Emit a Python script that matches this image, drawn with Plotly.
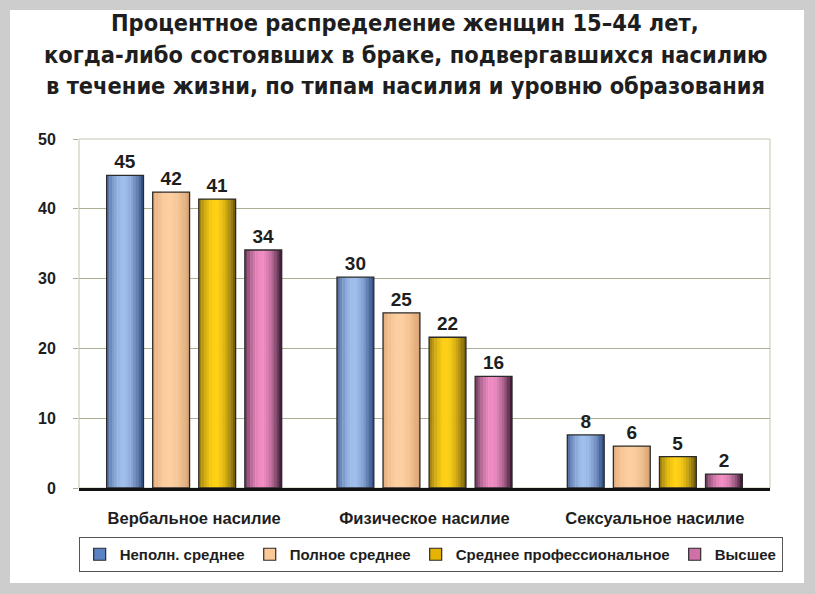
import plotly.graph_objects as go

categories = ["Вербальное насилие", "Физическое насилие", "Сексуальное насилие"]
series_names = ["Неполн. среднее", "Полное среднее", "Среднее профессиональное", "Высшее"]
values_nepoln = [44.8, 30.2, 7.6]
values_polnoe = [42.4, 25.1, 6.0]
values_prof = [41.4, 21.6, 4.5]
values_vysshee = [34.1, 16.0, 2.0]
labels_nepoln = ["45", "30", "8"]
labels_polnoe = ["42", "25", "6"]
labels_prof = ["41", "22", "5"]
labels_vysshee = ["34", "16", "2"]
y_ticks = [0, 10, 20, 30, 40, 50]
title_lines = [
    "Процентное распределение женщин 15–44 лет,",
    "когда-либо состоявших в браке, подвергавшихся насилию",
    "в течение жизни, по типам насилия и уровню образования",
]

series_values = [values_nepoln, values_polnoe, values_prof, values_vysshee]
series_labels = [labels_nepoln, labels_polnoe, labels_prof, labels_vysshee]
# (dark edge, light centre, legend colour)
palette = [
    ((38, 66, 122), (160, 190, 235), "#5b82c2"),
    ((214, 160, 110), (253, 206, 160), "#fbc896"),
    ((100, 82, 12), (255, 208, 20), "#e6b400"),
    ((45, 18, 40), (240, 140, 195), "#d070a8"),
]

W, H = 815, 594
L, R, T, B = 79, 770, 139, 488
pw, ph = R - L, B - T

def px(x):
    return (x - L) / pw

def py(y):
    return (B - y) / ph

xpos = list(range(len(categories)))
slot, bw = 0.2, 0.16
N = 14

fig = go.Figure()

def mix(a, b, f):
    return "rgb(%d,%d,%d)" % tuple(round(a[i] + (b[i] - a[i]) * f) for i in range(3))

for i, (vals, labs, (dark, light, legc)) in enumerate(zip(series_values, series_labels, palette)):
    left = -0.4 + slot * i + (slot - bw) / 2
    sw = bw / N
    for k in range(N):
        t = (k + 0.5) / N
        d = abs(t - 0.45) / 0.55
        f = max(0.0, 1 - d ** 1.8)
        fig.add_trace(go.Bar(
            x=xpos, y=vals, offset=left + k * sw, width=sw * 1.15 if k < N - 1 else sw,
            marker=dict(color=mix(dark, light, f), line=dict(width=0)),
            showlegend=False, hoverinfo="skip",
        ))
    fig.add_trace(go.Bar(
        x=xpos, y=vals, offset=left, width=bw,
        marker=dict(color="rgba(0,0,0,0)", line=dict(color="#2b2b2b", width=1.3)),
        text=labs, textposition="outside", cliponaxis=False,
        textfont=dict(family="Liberation Sans, Arial, sans-serif", size=19, color="#1e1e1e"),
        showlegend=False, name=series_names[i],
    ))
    fig.add_trace(go.Bar(
        x=xpos, y=[None] * len(xpos), name=series_names[i],
        marker=dict(color=legc, line=dict(color="#2b2b2b", width=1.2)),
        showlegend=True,
    ))

shapes = [
    dict(type="rect", xref="paper", yref="paper", x0=px(10), x1=px(804), y0=py(583), y1=py(10),
         fillcolor="white", line=dict(width=0), layer="below"),
    dict(type="rect", xref="paper", yref="paper", x0=0, x1=1, y0=0, y1=1,
         fillcolor="rgba(0,0,0,0)", line=dict(color="#c2c6b2", width=1), layer="below"),
]

for line, yc in zip(title_lines, [23, 55, 86]):
    fig.add_annotation(
        text=line, xref="paper", yref="paper", x=px(405), y=py(yc),
        xanchor="center", yanchor="middle", showarrow=False,
        font=dict(family="Liberation Sans Narrow, DejaVu Sans Condensed, Arial Narrow, sans-serif",
                  size=23.4, color="#1e1e1e", weight="bold"),
    )

fig.update_layout(
    width=W, height=H,
    margin=dict(l=L, r=W - R, t=T, b=H - B, autoexpand=False),
    paper_bgcolor="#cdcdcd",
    plot_bgcolor="#d7e2bd",
    barmode="overlay",
    shapes=shapes,
    font=dict(family="Liberation Sans, Arial, sans-serif", color="#1e1e1e", weight="bold"),
    legend=dict(
        orientation="h", xref="paper", yref="paper",
        x=-0.0005, y=py(537), xanchor="left", yanchor="top",
        bordercolor="#555555", borderwidth=1, bgcolor="white",
        font=dict(size=15, weight="bold", color="#1e1e1e"),
        itemwidth=30, tracegroupgap=0,
    ),
    xaxis=dict(
        range=[-0.5, 2.5], tickvals=xpos, ticktext=categories, ticks="",
        showgrid=False, showline=True, linecolor="#111111", linewidth=2.5,
        tickfont=dict(size=16.5, weight="bold"), ticklabelstandoff=13, zeroline=False,
    ),
    yaxis=dict(
        range=[0, 50], tickvals=y_ticks, showgrid=True, gridcolor="#a9b094", gridwidth=1,
        ticks="outside", ticklen=5, tickcolor="#a9b094", zeroline=False,
        tickfont=dict(size=16, weight="bold"), ticklabelstandoff=14,
    ),
)

fig.write_html("out.html")
